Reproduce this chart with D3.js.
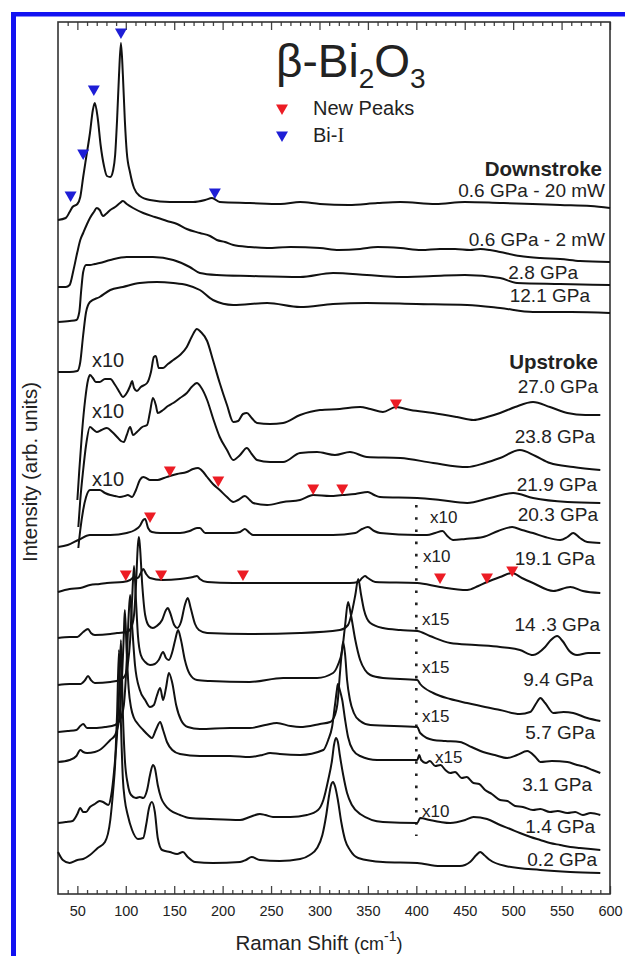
<!DOCTYPE html>
<html>
<head>
<meta charset="utf-8">
<script src="https://cdn.jsdelivr.net/npm/d3@7"></script>
<style>
  html, body { margin: 0; padding: 0; background: #fff; }
  svg text { font-family: 'Liberation Sans', Arial, Helvetica, sans-serif; fill: #222; }
</style>
</head>
<body>
<div id="chart"></div>
<script>
// Raman shift (cm-1), intensity (arb. units, stacking offset included)
const s06_20mW = [[30,674],[38,676],[42,682],[45,687],[50,690],[53,697],[56,717],[59,736],[63,761],[66,784],[68,791],[71,776],[74,749],[77.5,728],[80.5,718],[84,717],[87,724],[89,739],[91,774],[93,819],[95,851],[97,819],[99,774],[101,742],[104.5,721],[108.5,706],[114.5,698],[125,694],[145.5,692],[169.5,692],[182,694],[189,696],[197,692],[228,691],[260,690],[280,692],[300.5,690],[330,689],[360,691],[383.5,692],[420,690],[450,692],[486.5,691],[520,690],[548.5,689],[580,688],[600,686]];
const s06_2mW = [[30,607],[38,607],[42,609],[46,624],[50,642],[53,654],[56,661],[60,670],[63,676],[67,682],[70,686],[73,684],[76.5,678],[79.5,680],[84,684],[89,687],[94,691],[97,693],[101,690],[107.5,686],[118,681],[130,677],[142.5,673],[153,670],[163,665],[176.5,661],[187,658],[194,654],[202.5,652],[211,649],[228,647],[246,646],[270,647],[300.5,646],[320,644],[342,645],[360,647],[383.5,646],[405,644],[424.5,645],[440,645],[455.5,644],[466,645],[476,644],[486.5,642],[507,638],[528,636],[548.5,635],[569,633],[600,632]];
const s28 = [[30,572],[42,573],[49,574],[52,582],[54,604],[56,622],[59,629],[63,629],[68,630],[73,631],[84,634],[101,637],[128,637],[149,634],[166,627],[176.5,621],[194,619],[228,618],[280,617],[314,621],[349,619],[380,617],[417.5,618],[450,619],[486.5,616],[504,611],[548.5,610],[600,609]];
const s121 = [[30,522],[42,522],[50,523],[53,532],[56,559],[59,582],[63,592],[73,597],[84,604],[97,607],[114.5,611],[132,612],[149,611],[163,609],[176.5,604],[190,594],[211,589],[246,591],[280,587],[314,590],[349,591],[400,590],[452.5,589],[486.5,586],[520.5,582],[560,582],[600,581]];
const s270 = [[50,394],[52,424],[55,464],[58,494],[61,514],[63,519],[66,516],[69,512],[73,512],[78.5,515],[84,515],[89,509],[94,501],[97,497],[101,501],[104.5,508],[106.5,513],[108.5,506],[111.5,503],[115.5,507],[122,511],[126,522],[129,537],[131,538],[134,526],[138.5,526],[143.5,530],[149,534],[156,539],[163,547],[168,557],[173.5,565],[177.5,562],[184,553],[190,534],[197,511],[204.5,489],[211,472],[216,473],[221,480],[225,481],[230,476],[235.5,471],[249,470],[262.5,471],[280,479],[300.5,484],[321,485],[342,487],[352.5,485],[365.5,482],[379,487],[394,484],[417.5,481],[442,477],[459,474],[473,477],[486.5,481],[502,487],[520.5,492],[538,487],[556,481],[574.5,479],[590,479]];
const s238 = [[51,367],[53,394],[56,424],[59,449],[63,467],[67,464],[70,462],[75,464],[80.5,466],[86,462],[91,457],[95,453],[98,452],[101,459],[104.5,467],[107.5,459],[111.5,462],[117,467],[122,469],[125,482],[128,496],[131,489],[133,481],[138.5,484],[143.5,488],[149,491],[156,496],[163,501],[168,507],[173.5,511],[177.5,507],[184,494],[190,476],[197,457],[204.5,444],[211,434],[218,439],[225,446],[230,440],[235.5,434],[249,432],[262.5,432],[280,441],[297.5,442],[316,439],[331.5,442],[349,437],[383.5,436],[417.5,431],[452.5,427],[471,431],[486.5,436],[507,444],[523,438],[538,431],[562,427],[590,424]];
const s219 = [[51,346],[53,364],[56,384],[59,397],[63,404],[68,404],[73,404],[78.5,401],[84,399],[89,398],[94,397],[99,398],[102,399],[106.5,397],[110.5,404],[114.5,414],[118,417],[121,416],[125,414],[133,414],[139.5,416],[145.5,418],[153,420],[163,422],[169.5,425],[174.5,426],[180,422],[184,417],[190,410],[197,404],[204.5,397],[211,392],[216,394],[223,398],[228,394],[231.5,391],[246,389],[262.5,392],[280,394],[293.5,399],[311,398],[323.5,399],[337,400],[350,402],[356.5,399],[362.5,397],[401,396],[424.5,394],[452.5,391],[476,396],[500,401],[520.5,396],[556,392],[590,391]];
const s203 = [[30,347],[40,349],[51,354],[63,359],[84,359],[101,361],[109.5,364],[114.5,368],[118,374],[120,375],[123,366],[127,362],[135.5,361],[156,361],[166,363],[173.5,366],[176.5,366],[182,361],[211,361],[218,362],[223,365],[228,361],[231.5,359],[280,359],[314,359],[337,361],[344,365],[350,367],[356.5,363],[362.5,361],[401,359],[411,359],[419.5,361],[427,363],[432,358],[438,354],[450.5,355],[469,357],[484.5,363],[499,367],[509,364],[520.5,361],[533,357],[548.5,354],[556,357],[562,361],[569,356],[576.5,352],[590,351]];
const s191 = [[30,302],[42,305],[53,306],[63,309],[73,310],[80.5,311],[97,312],[104.5,314],[108.5,317],[112.5,316],[115.5,321],[118,325],[121,320],[125,316],[137.5,314],[156,315],[169.5,317],[173.5,318],[176.5,315],[184,312],[211,311],[260,311],[300.5,311],[331.5,311],[340,312],[344,316],[347,318],[350,316],[357.5,312],[401,311],[424.5,307],[452.5,304],[464,308],[473,312],[486.5,317],[499,321],[509,316],[520.5,311],[541.5,303],[559,307],[572,303],[590,301]];
const s143 = [[30,256],[42,257],[50,257],[56,262],[61,265],[64,261],[68,259],[84,260],[91,261],[101,262],[105.5,266],[108.5,279],[110.5,309],[112.5,349],[113.5,357],[114.5,349],[117,309],[120,279],[124,268],[128,266],[132,268],[137.5,274],[141.5,284],[143.5,286],[145.5,282],[150,269],[153,266],[157,272],[161,289],[164,296],[167,286],[171.5,270],[175.5,264],[184,261],[228,260],[280,261],[321,264],[329.5,269],[333.5,282],[337,299],[340,315],[343,299],[346,284],[352.5,271],[365.5,266],[383.5,264],[401,263],[414,258],[435,251],[461,249],[486.5,247],[507,244],[520.5,239],[533,247],[539,254],[545.5,258],[551,253],[558,243],[566,239],[577.5,241],[590,241]];
const s94 = [[30,209],[42,210],[53,210],[58,214],[61,218],[64,214],[68,211],[84,212],[94,214],[99,218],[102,229],[104.5,254],[106.5,294],[108.5,328],[110.5,294],[112.5,259],[115.5,239],[120,232],[125,229],[130,230],[134,234],[138.5,242],[141.5,236],[144.5,234],[148,242],[151,254],[154,264],[157,254],[161,234],[166,220],[173.5,214],[187,213],[228,212],[262.5,216],[297.5,216],[314,221],[319,229],[323.5,244],[326.5,269],[329.5,292],[332.5,279],[337,254],[342,234],[347,224],[352.5,219],[365.5,216],[401,214],[404,210],[417.5,201],[435,195],[452.5,191],[471,187],[486.5,184],[507,180],[517.5,182],[524,191],[528,196],[533,191],[541.5,181],[552,182],[562,181],[576.5,176],[590,173]];
const s57 = [[30,162],[40,163],[49,164],[53,168],[56,170],[60,166],[68,166],[78.5,167],[89,169],[94,174],[98,189],[101,234],[103,279],[104.5,299],[106.5,269],[109.5,229],[114.5,204],[120,194],[125,187],[129,189],[132,198],[135.5,206],[138.5,194],[141.5,206],[144.5,221],[148,211],[152,189],[157,174],[164,167],[176.5,165],[207.5,166],[228,166],[244,169],[256,171],[270,168],[280,167],[300.5,170],[311,172],[316,179],[319,194],[321,219],[323.5,246],[324.5,252],[326.5,239],[328.5,214],[331.5,194],[335.5,181],[342,173],[352.5,169],[401,167],[404,161],[417.5,154],[430,153],[445,152],[457,147],[469,142],[481,139],[494,136],[504,139],[514.5,143],[523,137],[528,132],[540,133],[556,132],[566,129],[574.5,127],[582,124],[590,121]];
const s31 = [[30,132],[42,134],[49,138],[53,144],[56,142],[60,141],[68,142],[73,144],[84,154],[89,159],[93,174],[96,214],[98,260],[99,284],[101,240],[103,205],[105.5,186],[108.5,176],[112.5,170],[118,164],[123,159],[127,156],[131,164],[135.5,172],[138.5,164],[142.5,152],[148,144],[156,140],[176.5,138],[207.5,138],[228,137],[241,139],[249,141],[259,140],[280,139],[304,144],[309,154],[313,167],[316,189],[318,204],[319,210],[321,204],[323.5,194],[326.5,174],[329.5,157],[334.5,144],[342,138],[359.5,134],[401,134],[403,139],[405,134],[410,131],[414,133],[419.5,128],[425,129],[430,124],[435,121],[440,122],[447,116],[452,117],[459,111],[465,110],[471,104],[478,100],[486.5,94],[494,93],[502,88],[510,87],[520.5,84],[528,85],[538,82],[546,83],[556,81],[564,82],[572,79],[580,81],[590,79]];
const s14 = [[30,71],[38,72],[45,73],[50,80],[53,86],[56,82],[59,82],[63,87],[68,90],[73,93],[76.5,92],[82,89],[85,99],[88,124],[91,160],[93,200],[95,254],[97,180],[99,135],[102,110],[105.5,99],[110.5,96],[114.5,97],[118,96],[122,104],[125,119],[128,129],[130,126],[133,109],[136.5,96],[140.5,89],[145.5,84],[156,79],[166,76],[187,75],[218,74],[228,77],[238.5,80],[244,79],[252,77],[270,77],[287,79],[298.5,84],[304,94],[309,114],[313,134],[315,149],[317,156],[319,152],[321,139],[324.5,119],[328.5,101],[333.5,89],[342,80],[365.5,72],[401,71],[404,76],[414,74],[425,72],[435,71],[450.5,74],[459,77],[473,75],[486.5,69],[497,65],[507,61],[518,57],[528,54],[538,51],[548.5,49],[559,47],[569,46],[580,45],[590,44]];
const s02 = [[30,42],[35,34],[42,31],[50,34],[56,35],[63,39],[71,46],[78.5,52],[84,74],[87,104],[89,130],[91,180],[93,244],[95,170],[97,115],[99,94],[102,79],[106.5,64],[112.5,55],[118,56],[121,69],[124,86],[127,92],[130,82],[133,56],[137.5,44],[145.5,42],[153,40],[159,42],[164,37],[171.5,32],[190,31],[218,32],[224,34],[230,37],[238.5,34],[259,33],[280,35],[290,39],[297.5,46],[303,59],[307,79],[310,99],[312,109],[314,112],[316,108],[319,94],[322.5,72],[326.5,54],[331.5,44],[340,36],[365.5,32],[401,31],[424.5,28],[445,28],[455.5,32],[462,39],[466,42],[470,39],[476,34],[492,28],[528,24],[559,22],[590,21]];

const spectra = [s06_20mW, s06_2mW, s28, s121, s270, s238, s219, s203, s191, s143, s94, s57, s31, s14, s02];
const pressures = ['0.6 GPa - 20 mW', '0.6 GPa - 2 mW', '2.8 GPa', '12.1 GPa', '27.0 GPa', '23.8 GPa', '21.9 GPa', '20.3 GPa', '19.1 GPa', '14 .3 GPa', '9.4 GPa', '5.7 GPa', '3.1 GPa', '1.4 GPa', '0.2 GPa'];

// peak markers (shift, intensity)
const newPeaks = [[379,491],[145.5,424],[195.5,414],[293.5,406],[323.5,406],[125,378],[100,320],[136.5,320],[221,320],[424.5,317],[473,317],[499,324]];
const biPeaks = [[43,699],[56,741],[67,805],[95,862],[192,702]];

const majorTicks = d3.range(50, 601, 50);
const minorTicks = d3.range(40, 600, 10).filter(d => d % 50 !== 0);

const width = 625, height = 956;
const plot = { left: 58, right: 610, top: 22, bottom: 894 };

const svg = d3.select('#chart').append('svg')
  .attr('width', width)
  .attr('height', height);

svg.append('rect').attr('width', width).attr('height', height).attr('fill', '#fff');

// blue frame around the figure
svg.append('rect').attr('x', 11).attr('y', 12).attr('width', width - 11).attr('height', 4.5).attr('fill', '#1212f2');
svg.append('rect').attr('x', 11).attr('y', 12).attr('width', 5).attr('height', height - 12).attr('fill', '#1212f2');

const x = d3.scaleLinear().domain([30, 600]).range([plot.left, plot.right]);
const y = d3.scaleLinear().domain([0, 872]).range([plot.bottom, plot.top]);

// ticks, inward on top and bottom
const axes = [
  { gen: d3.axisBottom, at: plot.bottom },
  { gen: d3.axisTop, at: plot.top }
];
axes.forEach((a, i) => {
  const major = svg.append('g')
    .attr('transform', `translate(0,${a.at})`)
    .call(a.gen(x).tickValues(majorTicks).tickSize(-8).tickPadding(12)
      .tickFormat(i === 0 ? d3.format('d') : () => ''));
  major.select('.domain').remove();
  major.selectAll('line').attr('stroke', '#444').attr('stroke-width', 1.3);
  major.selectAll('text').attr('font-size', '14.5px').attr('fill', '#333')
    .style('font-family', "'Liberation Sans', Arial, sans-serif");

  const minor = svg.append('g')
    .attr('transform', `translate(0,${a.at})`)
    .call(a.gen(x).tickValues(minorTicks).tickSize(-4).tickFormat(() => ''));
  minor.select('.domain').remove();
  minor.selectAll('line').attr('stroke', '#444').attr('stroke-width', 1.3);
});

svg.append('rect')
  .attr('x', plot.left).attr('y', plot.top)
  .attr('width', plot.right - plot.left).attr('height', plot.bottom - plot.top)
  .attr('fill', 'none').attr('stroke', '#333').attr('stroke-width', 1.6);

// dotted marker where the scaled (x10 / x15) part begins
svg.append('line')
  .attr('x1', x(400)).attr('x2', x(400))
  .attr('y1', y(389)).attr('y2', y(58))
  .attr('stroke', '#222').attr('stroke-width', 2.6)
  .attr('stroke-dasharray', '2.6,9.6');

const line = d3.line()
  .x(d => x(d[0]))
  .y(d => y(d[1]))
  .curve(d3.curveMonotoneX);

svg.append('g').selectAll('path')
  .data(spectra)
  .join('path')
  .attr('d', line)
  .attr('fill', 'none')
  .attr('stroke', '#111')
  .attr('stroke-width', 2)
  .attr('stroke-linejoin', 'round');

const tri = d3.symbol().type(d3.symbolTriangle).size(62);
function markers(list, color) {
  svg.append('g').selectAll('path')
    .data(list)
    .join('path')
    .attr('d', tri)
    .attr('transform', d => `translate(${x(d[0])},${y(d[1])}) rotate(180)`)
    .attr('fill', color);
}
markers(newPeaks, '#ec1c24');
markers(biPeaks, '#1e1ed6');

// title
const title = svg.append('text').attr('x', 276).attr('y', 77).attr('font-size', '46px').attr('fill', '#1a1a1a');
title.append('tspan').text('β-Bi');
title.append('tspan').attr('font-size', '28px').attr('dy', 11).text('2');
title.append('tspan').attr('font-size', '46px').attr('dy', -11).text('O');
title.append('tspan').attr('font-size', '28px').attr('dy', 11).text('3');

// legend
svg.append('path').attr('d', tri).attr('transform', 'translate(282,108) rotate(180)').attr('fill', '#ec1c24');
svg.append('path').attr('d', tri).attr('transform', 'translate(282,135) rotate(180)').attr('fill', '#1e1ed6');
svg.append('text').attr('x', 313).attr('y', 115).attr('font-size', '20px').text('New Peaks');
const bi = svg.append('text').attr('x', 313).attr('y', 142).attr('font-size', '20px');
bi.append('tspan').text('Bi-');
bi.append('tspan').style('font-family', "'Liberation Serif', 'Times New Roman', serif").text('I');

// spectrum labels
const labelPos = [[605,197],[605,246],[578,279],[590,302],[598,393],[595,443],[597,491],[598,521],[595,565],[600,631],[593,686],[595,739],[592,791],[595,833],[597,866]];
svg.append('g').selectAll('text')
  .data(pressures)
  .join('text')
  .attr('x', (d, i) => labelPos[i][0])
  .attr('y', (d, i) => labelPos[i][1])
  .attr('text-anchor', 'end')
  .attr('font-size', '19px')
  .text(d => d);

svg.append('text').attr('x', 602).attr('y', 176).attr('text-anchor', 'end')
  .attr('font-size', '20.5px').attr('font-weight', 'bold').text('Downstroke');
svg.append('text').attr('x', 598).attr('y', 369).attr('text-anchor', 'end')
  .attr('font-size', '20.5px').attr('font-weight', 'bold').text('Upstroke');

// magnification notes
const gainLeft = [[92,367],[92,418],[92,486]];
gainLeft.forEach(p => {
  svg.append('text').attr('x', p[0]).attr('y', p[1]).attr('font-size', '20px').text('x10');
});
const gains = ['x10', 'x10', 'x15', 'x15', 'x15', 'x15', 'x10'];
const gainPos = [[430,523],[423,562],[422,625],[422,673],[422,722],[435,763],[422,817]];
gains.forEach((g, i) => {
  svg.append('text').attr('x', gainPos[i][0]).attr('y', gainPos[i][1]).attr('font-size', '17px').text(g);
});

// axis titles
const xt = svg.append('text').attr('x', 319).attr('y', 950).attr('text-anchor', 'middle')
  .attr('font-size', '20.5px').attr('fill', '#333');
xt.append('tspan').text('Raman Shift ');
xt.append('tspan').attr('font-size', '18px').text('(cm');
xt.append('tspan').attr('font-size', '14px').attr('dy', -9).text('-1');
xt.append('tspan').attr('font-size', '18px').attr('dy', 9).text(')');

svg.append('text')
  .attr('transform', 'translate(37,472) rotate(-90)')
  .attr('text-anchor', 'middle')
  .attr('font-size', '20.5px')
  .attr('fill', '#333')
  .text('Intensity (arb. units)');
</script>
</body>
</html>
